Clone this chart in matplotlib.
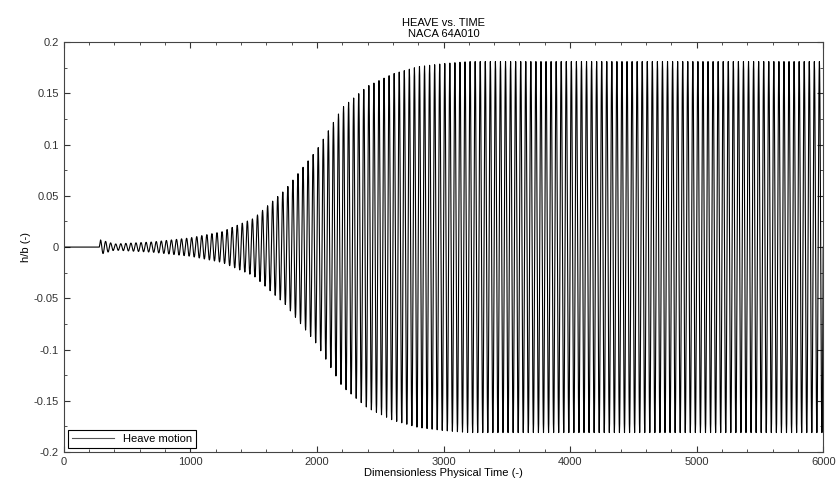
import numpy as np
import matplotlib.pyplot as plt
from matplotlib.ticker import MultipleLocator

# envelope of the heave oscillation (amplitude h/b at given times)
env_time = [0, 275, 290, 400, 700, 1000, 1250, 1500, 1750, 2000, 2200,
            2400, 2600, 2800, 3000, 3200, 6000]
env_amp = [0.0, 0.0, 0.007, 0.003, 0.005, 0.009, 0.015, 0.028, 0.056, 0.095,
           0.136, 0.157, 0.169, 0.176, 0.179, 0.181, 0.181]
start_time = 280     # onset of motion
period = 40.0        # oscillation period (dimensionless time)

t = np.arange(0, 6000.5, 2.0)
amp = np.interp(t, env_time, env_amp)
h = np.where(t < start_time, 0.0,
             amp * np.sin(2 * np.pi * (t - start_time) / period))

plt.rcParams['font.family'] = ['Liberation Sans', 'DejaVu Sans']
fig = plt.figure(figsize=(8.4, 4.84), dpi=100)
ax = fig.add_axes([0.076, 0.066, 0.904, 0.847])
ax.plot(t, h, color='black', lw=0.8, label='Heave motion')

ax.set_xlim(0, 6000)
ax.set_ylim(-0.2, 0.2)
ax.xaxis.set_major_locator(MultipleLocator(1000))
ax.xaxis.set_minor_locator(MultipleLocator(200))
ax.yaxis.set_major_locator(MultipleLocator(0.05))
ax.yaxis.set_minor_locator(MultipleLocator(0.025))
ax.yaxis.set_major_formatter(plt.FuncFormatter(lambda v, p: f'{v:g}'))
ax.tick_params(which='both', direction='in', top=True, right=True,
               labelsize=8, colors='#333333')
ax.tick_params(which='major', length=4)
ax.tick_params(which='minor', length=2)
for s in ax.spines.values():
    s.set_linewidth(0.8)
    s.set_color('#444444')

ax.set_xlabel('Dimensionless Physical Time (-)', fontsize=8, labelpad=1)
ax.set_ylabel('h/b (-)', fontsize=8, labelpad=2)
ax.set_title('HEAVE vs. TIME\nNACA 64A010', fontsize=8, pad=4, linespacing=1.1)

leg = ax.legend(loc='lower left', fontsize=8, fancybox=False,
                edgecolor='black', framealpha=1, borderpad=0.35,
                handlelength=3.8, borderaxespad=0.35)
leg.get_frame().set_linewidth(0.8)
leg.get_lines()[0].set_color('#555555')

fig.savefig('out.png', dpi=100)
